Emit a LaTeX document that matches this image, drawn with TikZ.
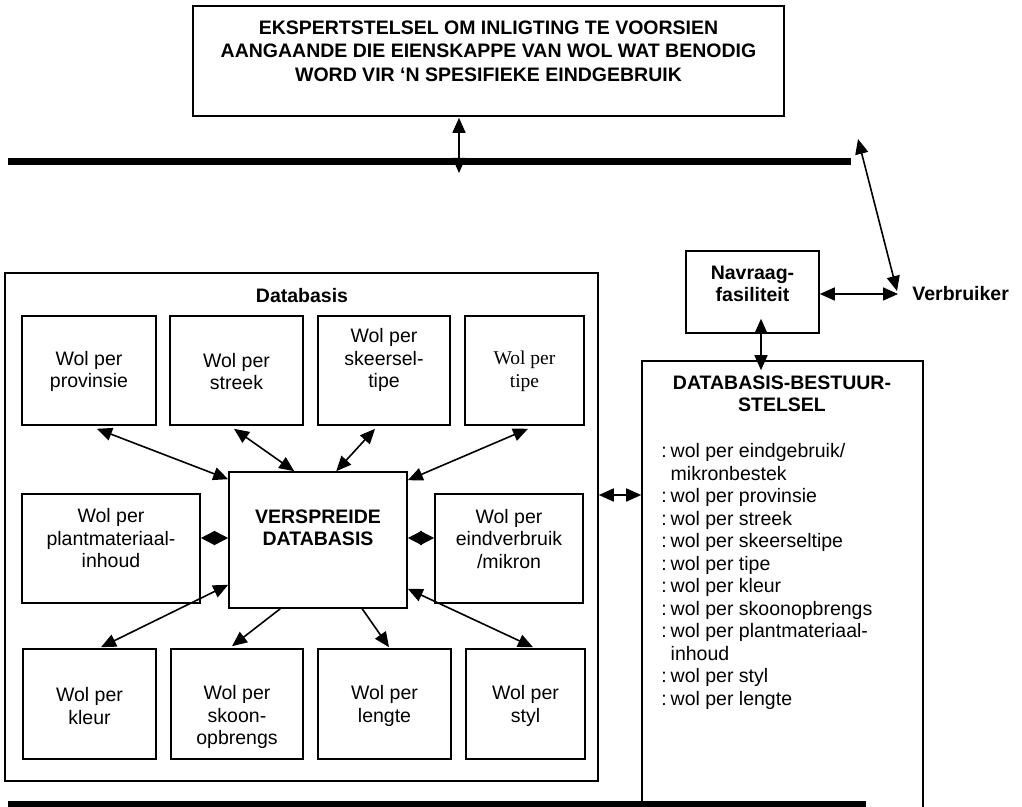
\documentclass[tikz,border=0pt]{standalone}
\usepackage{fontspec}
\setmainfont{Liberation Sans}
\newfontfamily\serifface{Liberation Serif}
\usetikzlibrary{arrows.meta,calc}
\begin{document}
\begin{tikzpicture}[x=0.5pt,y=-0.5pt,
  box/.style={draw,line width=0.8pt,inner sep=0pt},
  txt/.style={align=center,font=\fontsize{9.75}{11.25}\selectfont,inner sep=0pt},
  btxt/.style={align=center,font=\fontsize{9.75}{11.25}\selectfont\bfseries,inner sep=0pt},
  stxt/.style={align=center,font=\fontsize{9.75}{11.25}\selectfont\serifface,inner sep=0pt},
  arr/.style={line width=0.8pt,-{Triangle[length=7.5pt,width=6.5pt]}},
  darr/.style={line width=0.8pt,{Triangle[length=7.5pt,width=6.5pt]}-{Triangle[length=7.5pt,width=6.5pt]}},
  diam/.style={line width=0.8pt,{Triangle[length=7pt,width=7pt]}-{Triangle[length=7pt,width=7pt]}},
  bus/.style={line width=3.5pt}]
\useasboundingbox (0,0) rectangle (1022,807);
\fill[white] (0,0) rectangle (1022,807);
\clip (0,0) rectangle (1022,807);

% top expert system
\node[box,minimum width=295.5pt,minimum height=55pt] (top) at (488.5,61) {};
\node[btxt,font=\fontsize{9.75}{11.75}\selectfont\bfseries] (toptext) at (488.5,51) {EKSPERTSTELSEL OM INLIGTING TE VOORSIEN\\AANGAANDE DIE EIENSKAPPE VAN WOL WAT BENODIG\\WORD VIR ‘N SPESIFIEKE EINDGEBRUIK};

% buses
\coordinate (bus1w) at (8,162);
\coordinate (bus1e) at (851,162);
\coordinate (bus2w) at (8,804);
\coordinate (bus2e) at (866,804);

% navraag and verbruiker
\node[box,minimum width=66.5pt,minimum height=41pt] (nav) at (752.5,292) {};
\node[btxt] (navtext) at (752.5,284) {Navraag-\\fasiliteit};
\node[btxt,anchor=west] (verb) at (912,294) {Verbruiker};

% DBMS
\node[box,minimum width=140.5pt,minimum height=244.5pt] (dbms) at (782.5,605.5) {};
\node[btxt] (dbmstitle) at (782,394) {DATABASIS-BESTUUR-\\STELSEL};
\node[txt,align=left,anchor=north west] (dbmslist) at (661,443) {:\hspace{0.2em}wol per eindgebruik/\\\phantom{:\hspace{0.2em}}mikronbestek\\:\hspace{0.2em}wol per provinsie\\:\hspace{0.2em}wol per streek\\:\hspace{0.2em}wol per skeerseltipe\\:\hspace{0.2em}wol per tipe\\:\hspace{0.2em}wol per kleur\\:\hspace{0.2em}wol per skoonopbrengs\\:\hspace{0.2em}wol per plantmateriaal-\\\phantom{:\hspace{0.2em}}inhoud\\:\hspace{0.2em}wol per styl\\:\hspace{0.2em}wol per lengte};

% database
\node[box,minimum width=296.5pt,minimum height=254pt] (db) at (301.5,527) {};
\node[btxt] (dbtitle) at (302,296) {Databasis};

\node[box,minimum width=67pt,minimum height=54.5pt] (b1) at (89,370.5) {};
\node[txt] (b1t) at (89,371.5) {Wol per\\provinsie};
\node[box,minimum width=66.5pt,minimum height=54.5pt] (b2) at (236.5,370.5) {};
\node[txt] (b2t) at (236.5,371.5) {Wol per\\streek};
\node[box,minimum width=66pt,minimum height=54.5pt] (b3) at (384,370.5) {};
\node[txt] (b3t) at (384,360) {Wol per\\skeersel-\\tipe};
\node[box,minimum width=59.5pt,minimum height=54.5pt] (b4) at (524.5,370.5) {};
\node[stxt] (b4t) at (524.5,371.5) {Wol per\\tipe};

\node[box,minimum width=89pt,minimum height=54.5pt] (m1) at (111,548.5) {};
\node[txt] (m1t) at (111,538.5) {Wol per\\plantmateriaal-\\inhoud};
\node[box,minimum width=89pt,minimum height=68pt] (C) at (318,540) {};
\node[btxt] (Ct) at (318,528) {VERSPREIDE\\DATABASIS};
\node[box,minimum width=74pt,minimum height=54.5pt] (m2) at (509,548.5) {};
\node[txt] (m2t) at (509,539) {Wol per\\eindverbruik\\/mikron};

\node[box,minimum width=66.5pt,minimum height=55pt] (c1) at (89.5,704) {};
\node[txt] (c1t) at (89.5,706) {Wol per\\kleur};
\node[box,minimum width=66pt,minimum height=55pt] (c2) at (237,704) {};
\node[txt] (c2t) at (237,717) {Wol per\\skoon-\\opbrengs};
\node[box,minimum width=66.5pt,minimum height=55pt] (c3) at (384.5,704) {};
\node[txt] (c3t) at (384.5,706) {Wol per\\lengte};
\node[box,minimum width=59.5pt,minimum height=55pt] (c4) at (525.5,704) {};
\node[txt] (c4t) at (525.5,706) {Wol per\\styl};

% buses drawn
\draw[bus] (bus1w) -- (bus1e);
\draw[bus] (bus2w) -- (bus2e);

% connectors
\coordinate (tbus) at (459,173);
\draw[darr] ($(top.south)+(-29.5,1)$) -- (tbus);
\coordinate (vtop) at (858,139);
\draw[darr] (vtop) -- ($(verb.west)+(-15,-3)$);
\draw[darr] ($(nav.east)+(0,2)$) -- ($(verb.west)+(-14,0)$);
\coordinate (navp) at ($(nav.south)+(8.5,-15)$);
\coordinate (navq) at (navp |- dbms.north);
\draw[darr] (navp) -- ($(navq)+(0,10)$);
\coordinate (dbp) at ([yshift=16pt]db.east);
\draw[darr] (dbp) -- (dbp -| dbms.west);

\coordinate (dl) at ([yshift=5.25pt]m1.east);
\draw[diam] (dl) -- (dl -| C.west);
\coordinate (dr) at ([yshift=5.25pt]m2.west);
\draw[diam] (dr -| C.east) -- (dr);

\draw[darr] ($(b1.south)+(8,3)$) -- ($(C.north west)+(0,8)$);
\draw[darr] ($(b2.south)+(-2.5,3)$) -- ($(C.north west)+(66,0)$);
\draw[darr] ($(b3.south)+(-9,3)$) -- ($(C.north west)+(108,0)$);
\draw[darr] ($(b4.south)+(3.5,3)$) -- ($(C.north east)+(0,9)$);
\draw[darr] ($(C.south west)+(0,-24)$) -- ($(c1.north)+(11.5,-1)$);
\draw[arr] ($(C.south west)+(52,0)$) -- ($(c2.north)+(-5,-2)$);
\draw[arr] ($(C.south west)+(134,0)$) -- ($(c3.north)+(4.5,-1)$);
\draw[darr] ($(C.south east)+(0,-20)$) -- ($(c4.north)+(7.5,-1)$);
\end{tikzpicture}
\end{document}
